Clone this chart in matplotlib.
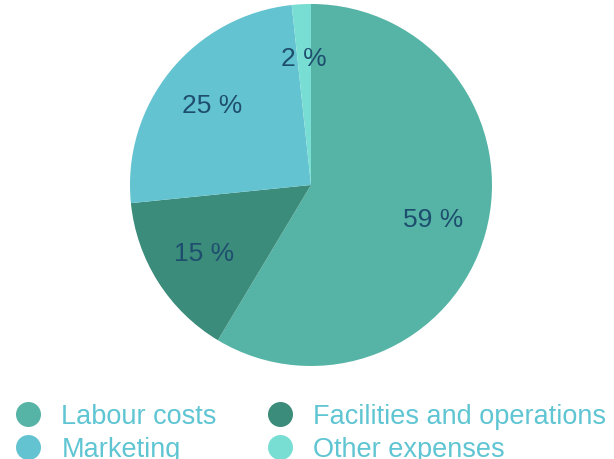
import matplotlib.pyplot as plt
from matplotlib.lines import Line2D

labels = ['Labour costs', 'Facilities and operations', 'Marketing', 'Other expenses']
values = [58.6, 14.8, 24.9, 1.7]
colors = ['#55b4a6', '#3b8c7a', '#63c3d1', '#78ded3']

plt.rcParams['font.family'] = ['Liberation Sans', 'DejaVu Sans']

fig = plt.figure(figsize=(6.14, 4.6), dpi=100)
ax = fig.add_axes([0.2117, 0.2022, 0.5896, 0.787])

wedges, texts, autotexts = ax.pie(values, colors=colors, startangle=90, counterclock=False,
                                  autopct='%.0f %%', pctdistance=0.7,
                                  wedgeprops={'linewidth': 0},
                                  textprops={'fontsize': 19, 'color': '#1e4e6e'})
ax.set_xlim(-1, 1)
ax.set_ylim(-1, 1)
ax.set_aspect('equal')

# legend order: column 1 = Labour, Marketing ; column 2 = Facilities, Other
order = [0, 2, 1, 3]
handles = [Line2D([], [], marker='o', linestyle='', markersize=18,
                  markerfacecolor=colors[i], markeredgewidth=0) for i in order]
fig.legend(handles, [labels[i] for i in order], ncol=2, loc='upper left',
           bbox_to_anchor=(12 / 614, 0.121), frameon=False, fontsize=19.5,
           labelcolor='#5fc5d3', handletextpad=0.62, columnspacing=1.72,
           labelspacing=0.25, handlelength=1.2, borderaxespad=0, borderpad=0)

fig.savefig('out.png', dpi=100)
